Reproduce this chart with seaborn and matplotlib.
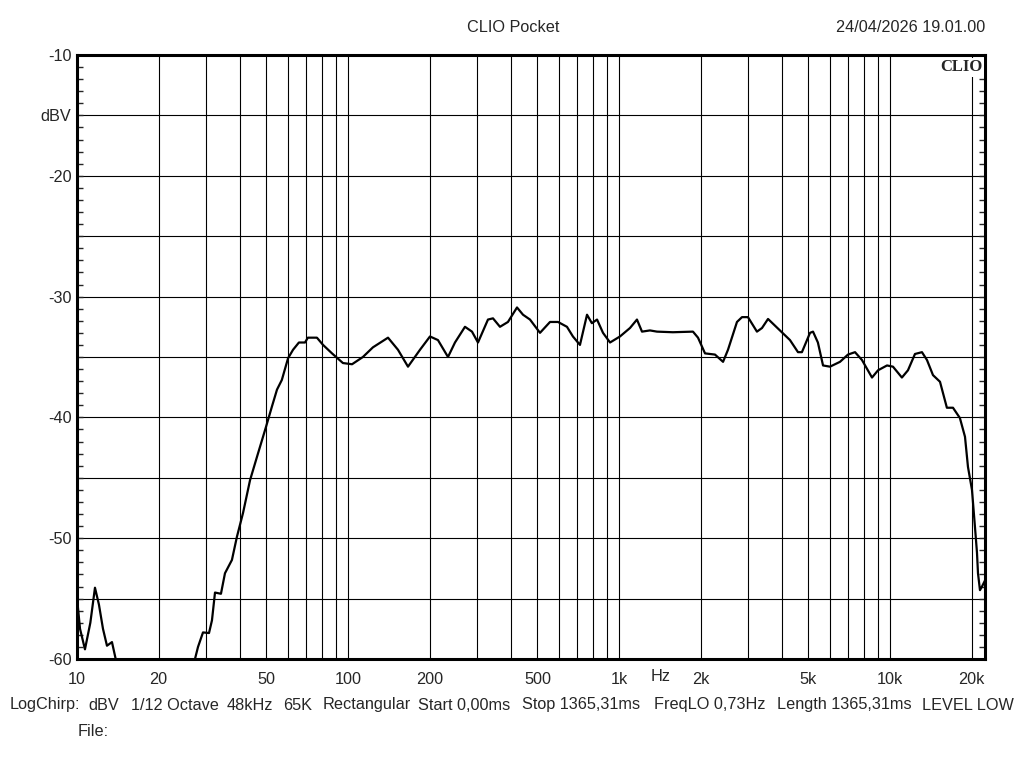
import pandas as pd
import seaborn as sns
import matplotlib.pyplot as plt
from matplotlib.ticker import FixedLocator, MultipleLocator

# frequency response (Hz, dBV)
freq = [10.0, 10.26, 10.7, 11.2, 11.65, 12.05, 12.47, 12.9, 13.46, 14.05, 14.4,
        26.8, 27.25, 27.96, 29.17, 30.7, 31.48, 32.3, 33.98, 35.16, 37.3, 38.9,
        41.0, 43.5, 46.1, 49.8, 52.4, 54.7, 57.0, 60.1, 62.7, 65.9, 69.4, 71.1,
        76.8, 80.9, 87.3, 95.8, 103.5, 113.5, 123.6, 140.5, 152.9, 166.5, 184.4,
        200.7, 214.8, 233.9, 248.2, 270.2, 286.8, 301.8, 328.5, 342.8, 363.8,
        389.3, 420.4, 442.4, 469.5, 511.1, 556.5, 595.7, 642.7, 676.1, 717.8,
        762.1, 794.3, 829.9, 873.0, 926.8, 1008.5, 1098, 1165, 1216, 1301, 1381,
        1581, 1875, 1957, 2077, 2261, 2421, 2525, 2725, 2844, 2992, 3229, 3371,
        3548, 3926, 4276, 4577, 4732, 5070, 5200, 5420, 5662, 6006, 6540, 6998,
        7430, 7883, 8584, 9036, 9750, 10257, 11066, 11651, 12366, 13122, 13694,
        14411, 15295, 16218, 17080, 18113, 18914, 19400, 20072, 20592, 20944,
        21123, 21482, 21855, 22420]
level = [-54.95, -57.5, -59.2, -57.0, -54.1, -55.5, -57.5, -58.9, -58.6, -60.5, -62.0,
         -62.0, -60.0, -59.0, -57.8, -57.85, -56.8, -54.5, -54.6, -52.9, -51.8, -49.9,
         -47.9, -45.2, -43.3, -40.8, -39.1, -37.7, -36.9, -35.1, -34.4, -33.8, -33.8, -33.4,
         -33.4, -34.0, -34.7, -35.5, -35.6, -35.0, -34.2, -33.4, -34.4, -35.8, -34.4,
         -33.3, -33.6, -35.0, -33.8, -32.5, -32.9, -33.8, -31.9, -31.8, -32.5,
         -32.1, -30.9, -31.5, -31.9, -33.0, -32.1, -32.1, -32.5, -33.3, -34.0,
         -31.5, -32.2, -31.9, -33.0, -33.8, -33.3, -32.6, -31.9, -32.9, -32.8, -32.9,
         -32.95, -32.9, -33.4, -34.7, -34.8, -35.4, -34.4, -32.1, -31.7, -31.7, -32.9, -32.6,
         -31.85, -32.8, -33.6, -34.6, -34.6, -33.0, -32.9, -33.8, -35.7, -35.8, -35.4, -34.8,
         -34.6, -35.25, -36.7, -36.1, -35.7, -35.8, -36.7, -36.1, -34.75, -34.6, -35.25,
         -36.5, -37.05, -39.2, -39.2, -40.05, -41.6, -44.1, -46.0, -49.1, -51.2,
         -52.9, -54.3, -54.0, -53.5]

x_ticks = [10, 20, 50, 100, 200, 500, 1000, 2000, 5000, 10000, 20000]
x_labels = ["10", "20", "50", "100", "200", "500", "1k", "2k", "5k", "10k", "20k"]
y_ticks = [-60, -55, -50, -45, -40, -35, -30, -25, -20, -15, -10]
y_labels = ["-60", "", "-50", "", "-40", "", "-30", "", "-20", "dBV", "-10"]

footer = ["LogChirp:", "dBV", "1/12 Octave", "48kHz", "65K", "Rectangular",
          "Start 0,00ms", "Stop 1365,31ms", "FreqLO 0,73Hz", "Length 1365,31ms",
          "LEVEL LOW"]
footer_x = [10, 88, 131, 227, 283, 323, 418, 522, 654, 777, 922]

df = pd.DataFrame({"freq": freq, "level": level})

sns.set_style("white")
plt.rcParams["font.family"] = ["Liberation Sans", "DejaVu Sans"]
fs = 11.7

fig = plt.figure(figsize=(10.24, 7.68), dpi=100)
ax = fig.add_axes([77 / 1024, 1 - 659 / 768, 908 / 1024, 604 / 768])

sns.lineplot(data=df, x="freq", y="level", color="black", linewidth=1.6,
             estimator=None, sort=False, ax=ax)

ax.set_xscale("log")
ax.set_xlim(10, 22420)
ax.set_ylim(-60, -10)

# grid: every 1..9 multiple on x, every 5 dB on y
minor_x = [m * d for d in [10, 100, 1000, 10000] for m in range(2, 10)
           if m * d not in x_ticks and m * d < 22420]
ax.xaxis.set_major_locator(FixedLocator(x_ticks))
ax.xaxis.set_minor_locator(FixedLocator(minor_x))
ax.set_xticklabels(x_labels)
ax.yaxis.set_major_locator(FixedLocator(y_ticks))
ax.set_yticklabels(y_labels)
ax.yaxis.set_minor_locator(MultipleLocator(1))

ax.grid(True, which="both", axis="x", color="black", linewidth=0.8)
ax.grid(True, which="major", axis="y", color="black", linewidth=0.8)

ax.tick_params(axis="x", which="both", length=0, pad=9, labelsize=fs)
ax.tick_params(axis="y", which="both", direction="in", length=4, width=1,
               left=True, right=True, pad=4, labelsize=fs)
for s in ax.spines.values():
    s.set_visible(True)
    s.set_color("black")
    s.set_linewidth(2.2)

ax.set_xlabel("")
ax.set_ylabel("")

ax.text(0.997, 0.993, "CLIO", transform=ax.transAxes, ha="right", va="top",
        fontsize=12, fontweight="bold", family="Liberation Serif",
        bbox=dict(facecolor="white", edgecolor="none", pad=1))
ax.text(1429, -0.0298, "Hz", ha="center", va="center", fontsize=fs,
        transform=ax.get_xaxis_transform())

fig.text(513 / 1024, 1 - 27 / 768, "CLIO Pocket", ha="center", va="center", fontsize=fs)
fig.text(985 / 1024, 1 - 27 / 768, "24/04/2026 19.01.00", ha="right", va="center", fontsize=fs)
for label, xpos in zip(footer, footer_x):
    fig.text(xpos / 1024, 1 - 705 / 768, label, ha="left", va="center", fontsize=fs)
fig.text(78 / 1024, 1 - 732 / 768, "File:", ha="left", va="center", fontsize=fs)

fig.savefig("out.png", dpi=100)
